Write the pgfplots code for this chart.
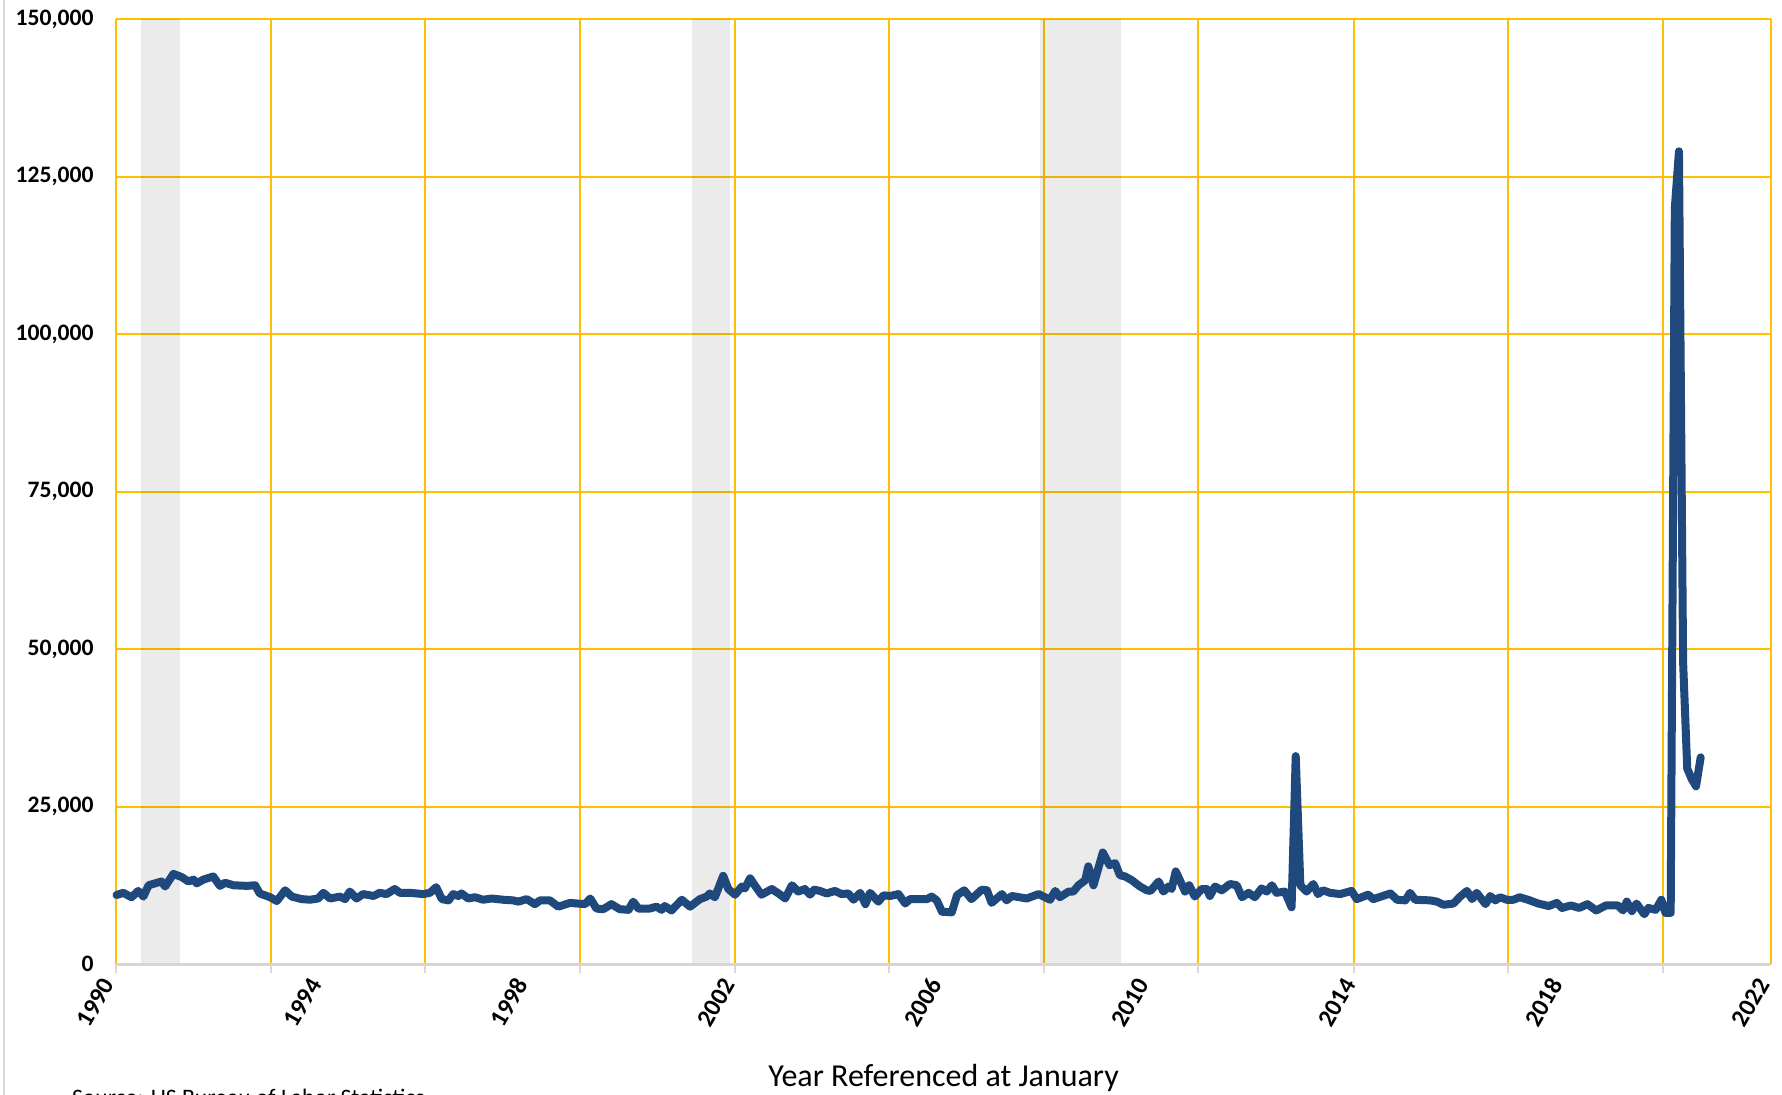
\documentclass[border=0pt]{standalone}
\usepackage{pgfplots}
\pgfplotsset{compat=1.18}
\usepackage{fontspec}
\setmainfont{Carlito}
\definecolor{gridyellow}{HTML}{FFC000}
\definecolor{lineblue}{HTML}{1F497D}
\definecolor{axisgray}{HTML}{DCD6CA}
\definecolor{tickgray}{HTML}{D9D9D9}
\definecolor{borderg}{HTML}{D9D9D9}
\begin{document}
\begin{tikzpicture}
\begin{axis}[
  scale only axis,
  width=827.5pt, height=472.5pt,
  xmin=1990, xmax=2022, ymin=0, ymax=150000,
  axis line style={draw=none},
  clip=false,
  xtick={1990,1994,1998,2002,2006,2010,2014,2018,2022},
  xticklabels={1990,1994,1998,2002,2006,2010,2014,2018,2022},
  minor xtick={1990,1992.99,1995.98,1998.97,2001.96,2004.95,2007.94,2010.93,2013.93,2016.92,2019.92},
  major tick length=0pt,
  minor tick length=4.5pt,
  tick align=outside,
  xtick pos=bottom,
  ytick pos=left,
  xminorgrids=true, xmajorgrids=false,
  ymajorgrids=true,
  minor x grid style={gridyellow, line width=1pt},
  y grid style={gridyellow, line width=1pt},
  minor x tick style={tickgray, line width=1pt},
  ytick={0,25000,50000,75000,100000,125000,150000},
  yticklabels={0,{25,000},{50,000},{75,000},{100,000},{125,000},{150,000}},
  scaled y ticks=false,
  yticklabel style={font=\bfseries\fontsize{11.8}{13}\selectfont, inner sep=0pt, anchor=east, xshift=-11pt},
  xticklabel shift=10.4pt,
  xticklabel style={font=\bfseries\fontsize{12.5}{14}\selectfont, inner sep=0pt, anchor=south east, rotate=60},
  xlabel={Year Referenced at January},
  xlabel style={font=\fontsize{16}{18}\selectfont, at={(axis description cs:0.5,0)}, anchor=base, yshift=-61.3pt, inner sep=0pt},
]
% recession shading
\addplot[draw=none, fill=black, fill opacity=0.08] coordinates {(1990.48,150000) (1991.24,150000)} \closedcycle;
\addplot[draw=none, fill=black, fill opacity=0.08] coordinates {(2001.14,150000) (2001.87,150000)} \closedcycle;
\addplot[draw=none, fill=black, fill opacity=0.08] coordinates {(2007.87,150000) (2009.44,150000)} \closedcycle;
% series
\addplot[lineblue, line width=4pt, line join=round, line cap=round] coordinates {
(1990.01,10950) (1990.14,11300) (1990.30,10600) (1990.43,11600) (1990.53,10700)
(1990.63,12500) (1990.88,13100) (1990.95,12300) (1991.11,14300) (1991.27,13800)
(1991.40,13100) (1991.50,13400) (1991.56,12800) (1991.69,13400) (1991.88,13900)
(1992.01,12400) (1992.11,12900) (1992.27,12500) (1992.53,12400) (1992.69,12500)
(1992.78,11200) (1992.98,10600) (1993.11,10000) (1993.27,11700) (1993.40,10700)
(1993.59,10300) (1993.75,10200) (1993.91,10400) (1994.01,11300) (1994.14,10400)
(1994.33,10700) (1994.43,10300) (1994.52,11500) (1994.65,10400) (1994.78,11100)
(1994.98,10800) (1995.10,11300) (1995.23,11100) (1995.39,11900) (1995.49,11300)
(1995.68,11300) (1995.94,11100) (1996.07,11300) (1996.19,12200) (1996.30,10300)
(1996.43,10100) (1996.52,11100) (1996.62,10800) (1996.68,11200) (1996.81,10400)
(1996.94,10600) (1997.10,10200) (1997.26,10400) (1997.49,10200) (1997.68,10100)
(1997.78,9900) (1997.94,10300) (1998.10,9500) (1998.20,10100) (1998.39,10100)
(1998.55,9100) (1998.78,9700) (1999.07,9500) (1999.17,10400) (1999.29,8800)
(1999.42,8700) (1999.58,9500) (1999.74,8700) (1999.91,8600) (2000.00,9900)
(2000.10,8800) (2000.32,8800) (2000.45,9100) (2000.55,8600) (2000.61,9200)
(2000.74,8500) (2000.94,10200) (2001.10,9100) (2001.29,10300) (2001.42,10700)
(2001.48,11200) (2001.58,10600) (2001.74,14000) (2001.84,11900) (2001.97,11000)
(2002.10,12300) (2002.16,12000) (2002.26,13600) (2002.35,12500) (2002.48,11000)
(2002.68,11900) (2002.81,11200) (2002.94,10400) (2003.07,12500) (2003.19,11500)
(2003.32,11900) (2003.42,11000) (2003.50,11800) (2003.61,11600) (2003.74,11200)
(2003.90,11600) (2004.03,11100) (2004.16,11200) (2004.26,10200) (2004.39,11300)
(2004.49,9500) (2004.58,11300) (2004.74,9900) (2004.84,10900) (2004.97,10800)
(2005.13,11100) (2005.26,9600) (2005.35,10300) (2005.68,10300) (2005.77,10700)
(2005.87,10100) (2005.97,8300) (2006.16,8200) (2006.26,10900) (2006.40,11700)
(2006.54,10300) (2006.74,11800) (2006.84,11700) (2006.93,9700) (2007.13,11100)
(2007.22,10100) (2007.32,10800) (2007.61,10400) (2007.84,11100) (2008.06,10200)
(2008.16,11600) (2008.25,10600) (2008.42,11500) (2008.51,11500) (2008.61,12500)
(2008.74,13300) (2008.80,15500) (2008.90,12500) (2009.08,17700) (2009.21,15700)
(2009.32,16000) (2009.41,14100) (2009.51,13900) (2009.64,13300) (2009.80,12300)
(2009.93,11700) (2010.00,11600) (2010.16,13100) (2010.25,11500) (2010.35,12300)
(2010.41,11900) (2010.49,14700) (2010.57,13300) (2010.67,11500) (2010.75,12500)
(2010.86,10700) (2010.99,11900) (2011.09,11900) (2011.15,10800) (2011.25,12300)
(2011.38,11700) (2011.54,12700) (2011.67,12500) (2011.77,10600) (2011.90,11300)
(2012.02,10600) (2012.15,12000) (2012.25,11500) (2012.35,12500) (2012.44,11300)
(2012.60,11500) (2012.73,9000) (2012.81,33000) (2012.90,12500) (2013.02,11500)
(2013.15,12700) (2013.24,11100) (2013.34,11700) (2013.47,11300) (2013.67,11100)
(2013.89,11600) (2013.99,10300) (2014.21,11000) (2014.31,10300) (2014.64,11200)
(2014.77,10200) (2014.93,10100) (2015.02,11300) (2015.12,10200) (2015.41,10100)
(2015.54,9900) (2015.67,9400) (2015.86,9600) (2015.99,10700) (2016.12,11600)
(2016.22,10300) (2016.31,11300) (2016.48,9500) (2016.57,10800) (2016.67,10100)
(2016.76,10600) (2016.89,10200) (2017.02,10200) (2017.14,10600) (2017.30,10200)
(2017.50,9600) (2017.70,9200) (2017.86,9700) (2017.96,8900) (2018.13,9300)
(2018.29,8900) (2018.45,9500) (2018.62,8500) (2018.81,9300) (2019.04,9300)
(2019.14,8500) (2019.21,9900) (2019.31,8400) (2019.40,9600) (2019.55,7900)
(2019.63,8900) (2019.77,8600) (2019.88,10200) (2019.96,8100) (2020.06,8100)
(2020.14,120000) (2020.22,129000) (2020.30,48000) (2020.38,31000) (2020.47,29300)
(2020.55,28200) (2020.64,32800)
};
\draw[axisgray, line width=1.5pt] (rel axis cs:0,0) -- (rel axis cs:1,0);
\draw[gridyellow, line width=1pt] (rel axis cs:1,0) -- (rel axis cs:1,1);
\end{axis}
\node[anchor=base west, font=\fontsize{11.8}{13}\selectfont, inner sep=0pt] at (-22.15pt,-70.8pt) {Source: US Bureau of Labor Statistics};
\draw[borderg, line width=0.7pt] (-56pt,-70pt) -- (-56pt,490pt);
\pgfresetboundingbox
\useasboundingbox (-58pt,-65pt) rectangle (833pt,482pt);
\end{tikzpicture}
\end{document}
